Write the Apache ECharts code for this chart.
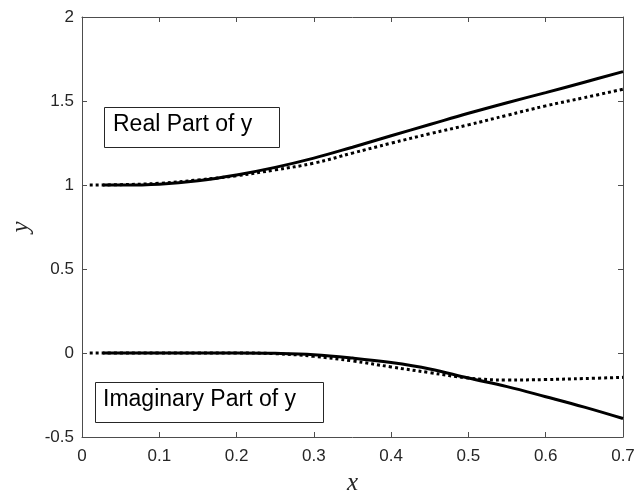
<!DOCTYPE html>
<html><head><meta charset="utf-8">
<script src="https://cdn.jsdelivr.net/npm/echarts@6/dist/echarts.min.js"></script>
<style>html,body{margin:0;padding:0;background:#fff}#c{width:636px;height:496px}</style>
</head><body><div id="c"></div>
<script>
const realSolidX = [0.027, 0.05, 0.1, 0.15, 0.2, 0.25, 0.3, 0.35, 0.4, 0.45, 0.5, 0.55, 0.6, 0.65, 0.7];
const realSolidY = [1.0, 1.0, 1.005, 1.025, 1.06, 1.105, 1.16, 1.225, 1.293, 1.36, 1.427, 1.49, 1.55, 1.612, 1.675];
const realDotX = [0.01, 0.05, 0.1, 0.15, 0.2, 0.25, 0.3, 0.35, 0.4, 0.45, 0.5, 0.55, 0.6, 0.65, 0.7];
const realDotY = [1.0, 1.002, 1.01, 1.03, 1.055, 1.09, 1.13, 1.19, 1.249, 1.305, 1.358, 1.415, 1.471, 1.52, 1.57];
const imagSolidX = [0.027, 0.05, 0.1, 0.15, 0.2, 0.25, 0.3, 0.35, 0.4, 0.45, 0.5, 0.55, 0.6, 0.65, 0.7];
const imagSolidY = [0, 0, 0, 0, 0, -0.002, -0.01, -0.03, -0.057, -0.095, -0.149, -0.2, -0.26, -0.322, -0.39];
const imagDotX = [0.01, 0.05, 0.1, 0.15, 0.2, 0.25, 0.3, 0.35, 0.4, 0.45, 0.5, 0.55, 0.6, 0.65, 0.7];
const imagDotY = [0, 0, 0, 0, 0, -0.004, -0.02, -0.047, -0.083, -0.117, -0.149, -0.161, -0.158, -0.152, -0.145];
const labels = ['Real Part of y', 'Imaginary Part of y'];

const pairs = (xs, ys) => xs.map((x, i) => [x, ys[i]]);
const axisColor = '#4d4d4d';
const tickFont = {fontFamily: 'Liberation Sans', fontSize: 17, color: '#262626'};
const nameFont = {fontFamily: 'Liberation Serif', fontStyle: 'italic', fontSize: 25, color: '#262626'};

function xAxisDef(pos, show) {
  return {type: 'value', position: pos, min: 0, max: 0.7, interval: 0.1,
    axisLine: {show: true, onZero: false, lineStyle: {color: axisColor, width: 1}},
    axisTick: {show: true, inside: true, length: 5, lineStyle: {color: axisColor}},
    axisLabel: show ? Object.assign({margin: 11, formatter: v => String(+v.toFixed(1))}, tickFont) : {show: false},
    splitLine: {show: false},
    name: show ? 'x' : '', nameLocation: 'middle', nameGap: 34, nameTextStyle: nameFont};
}
function yAxisDef(pos, show) {
  return {type: 'value', position: pos, min: -0.5, max: 2, interval: 0.5,
    axisLine: {show: true, onZero: false, lineStyle: {color: axisColor, width: 1}},
    axisTick: {show: true, inside: true, length: 5, lineStyle: {color: axisColor}},
    axisLabel: show ? Object.assign({margin: 8, formatter: v => String(+v.toFixed(1))}, tickFont) : {show: false},
    splitLine: {show: false},
    name: show ? 'y' : '', nameLocation: 'middle', nameGap: 47, nameRotate: 90, nameTextStyle: nameFont};
}

const solid = {color: '#000', width: 3, type: 'solid'};
const dotted = {color: '#000', width: 3, type: [3, 3], cap: 'butt'};
function line(xs, ys, style, z) {
  return {type: 'line', data: pairs(xs, ys), showSymbol: false, smooth: 0.4,
    lineStyle: style, z: z, animation: false, xAxisIndex: 0, yAxisIndex: 0};
}

const chart = echarts.init(document.getElementById('c'), null, {renderer: 'canvas'});
chart.setOption({
  animation: false,
  backgroundColor: '#fff',
  grid: {left: 82, right: 13, top: 17, bottom: 59, containLabel: false, outerBoundsMode: 'none'},
  xAxis: [xAxisDef('bottom', true), xAxisDef('top', false)],
  yAxis: [yAxisDef('left', true), yAxisDef('right', false)],
  series: [
    line(realDotX, realDotY, dotted, 2),
    line(realSolidX, realSolidY, solid, 3),
    line(imagDotX, imagDotY, dotted, 2),
    line(imagSolidX, imagSolidY, solid, 3)
  ],
  graphic: [
    {type: 'rect', shape: {x: 104.5, y: 107.5, width: 175, height: 40},
      style: {fill: '#fff', stroke: '#262626', lineWidth: 1}, z: 10},
    {type: 'text', x: 113, y: 125, z: 11,
      style: {text: labels[0], font: '23px "Liberation Sans"', fill: '#000', verticalAlign: 'middle'}},
    {type: 'rect', shape: {x: 95.5, y: 382.5, width: 228, height: 40},
      style: {fill: '#fff', stroke: '#262626', lineWidth: 1}, z: 10},
    {type: 'text', x: 103, y: 400, z: 11,
      style: {text: labels[1], font: '23px "Liberation Sans"', fill: '#000', verticalAlign: 'middle'}}
  ]
});
</script></body></html>
